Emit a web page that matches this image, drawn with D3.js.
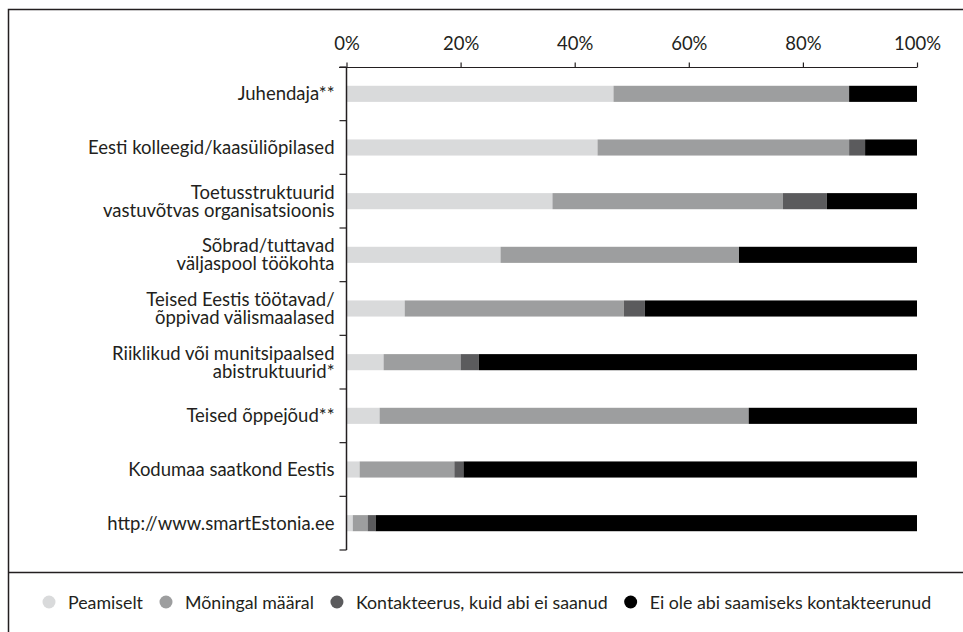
<!DOCTYPE html>
<html>
<head>
<meta charset="utf-8">
<script src="https://cdn.jsdelivr.net/npm/d3@7"></script>
<style>
  html, body { margin: 0; padding: 0; background: #fff; }
  svg { display: block; }
  text { font-family: Lato, "Open Sans", sans-serif; fill: #231f20; }
</style>
</head>
<body>
<svg id="chart" width="963" height="632"></svg>
<script>
// ---- data ----
const categories = [
  "Juhendaja**",
  "Eesti kolleegid/kaasüliõpilased",
  "Toetusstruktuurid\nvastuvõtvas organisatsioonis",
  "Sõbrad/tuttavad\nväljaspool töökohta",
  "Teised Eestis töötavad/\nõppivad välismaalased",
  "Riiklikud või munitsipaalsed\nabistruktuurid*",
  "Teised õppejõud**",
  "Kodumaa saatkond Eestis",
  "http://www.smartEstonia.ee"
];
const seriesNames = ["Peamiselt", "Mõningal määral", "Kontakteerus, kuid abi ei saanud", "Ei ole abi saamiseks kontakteerunud"];
const peamiselt   = [46.8, 44.0, 36.1, 27.0, 10.2, 6.5, 5.8, 2.3, 1.1];
const moningal    = [41.3, 44.1, 40.4, 41.8, 38.4, 13.5, 64.7, 16.6, 2.6];
const kontakteerus= [0.0, 2.8, 7.7, 0.0, 3.7, 3.2, 0.0, 1.6, 1.4];
const eiOle       = [11.9, 9.1, 15.8, 31.2, 47.7, 76.8, 29.5, 79.5, 94.9];
const xTicks = [0, 20, 40, 60, 80, 100];
const colors = ["#d9dadb", "#9d9e9f", "#5b5b5d", "#000000"];

const rows = categories.map((c, i) => ({
  cat: c,
  [seriesNames[0]]: peamiselt[i],
  [seriesNames[1]]: moningal[i],
  [seriesNames[2]]: kontakteerus[i],
  [seriesNames[3]]: eiOle[i]
}));

const svg = d3.select("#chart");
const FS = 18.5;
const LFS = 17.8;

// frame
const frame = svg.append("g").attr("stroke", "#231f20").attr("stroke-width", 1.5).attr("fill", "none");
frame.append("rect").attr("x", 8.5).attr("y", 9.5).attr("width", 1000).attr("height", 700);
frame.append("line").attr("x1", 8.5).attr("x2", 963).attr("y1", 572.5).attr("y2", 572.5);

// scales
const x = d3.scaleLinear().domain([0, 100]).range([346.5, 917]);
const y = d3.scaleBand().domain(categories).range([67, 550]).paddingInner(0.7).paddingOuter(0.35);
const color = d3.scaleOrdinal().domain(seriesNames).range(colors);

const stack = d3.stack().keys(seriesNames)(rows);

// bars
svg.append("g").selectAll("g").data(stack).join("g")
  .attr("fill", d => color(d.key))
  .selectAll("rect").data(d => d).join("rect")
  .attr("x", d => x(d[0]))
  .attr("width", d => Math.max(0, x(d[1]) - x(d[0])))
  .attr("y", d => y(d.data.cat))
  .attr("height", y.bandwidth());

// x axis (top)
const xAxis = svg.append("g").attr("transform", "translate(0,67.5)")
  .call(d3.axisTop(x).tickValues(xTicks).tickFormat(d => d + "%").tickSize(5).tickSizeOuter(0).tickPadding(13));
xAxis.select(".domain").remove();
xAxis.selectAll("line").attr("stroke", "#231f20").attr("stroke-width", 1.2);
xAxis.selectAll("text").attr("font-size", FS).attr("font-family", "Lato, sans-serif").attr("fill", "#231f20");
svg.append("line").attr("x1", 339).attr("x2", x(100)).attr("y1", 67.5).attr("y2", 67.5)
  .attr("stroke", "#231f20").attr("stroke-width", 1.2);

// y axis
const y0 = y.range()[0], step = y.step();
svg.append("line").attr("x1", x(0)).attr("x2", x(0)).attr("y1", y0).attr("y2", y.range()[1])
  .attr("stroke", "#231f20").attr("stroke-width", 1.5);
svg.append("g").selectAll("line").data(d3.range(categories.length + 1)).join("line")
  .attr("x1", x(0) - 7).attr("x2", x(0))
  .attr("y1", i => y0 + i * step).attr("y2", i => y0 + i * step)
  .attr("stroke", "#231f20").attr("stroke-width", 1.2);

// category labels
const lh = 18;
const labels = svg.append("g").selectAll("text").data(categories).join("text")
  .attr("text-anchor", "end")
  .attr("font-size", FS)
  .attr("x", x(0) - 12)
  .attr("y", d => y(d) + y.bandwidth() / 2);
labels.each(function(d) {
  const lines = d.split("\n");
  const t = d3.select(this);
  lines.forEach((l, k) => {
    t.append("tspan").attr("x", x(0) - 12)
      .attr("dy", k === 0 ? ((-(lines.length - 1) / 2) * lh + 6.5) : lh)
      .text(l);
  });
});

// legend
const legend = svg.append("g");
let lx = 49;
const ly = 602;
seriesNames.forEach((s, i) => {
  legend.append("circle").attr("cx", lx).attr("cy", ly).attr("r", 6.5).attr("fill", color(s));
  const t = legend.append("text").attr("x", lx + 19).attr("y", ly + 6.5).attr("font-size", LFS).text(s);
  lx = lx + 19 + t.node().getComputedTextLength() + 23;
});
</script>
</body>
</html>
